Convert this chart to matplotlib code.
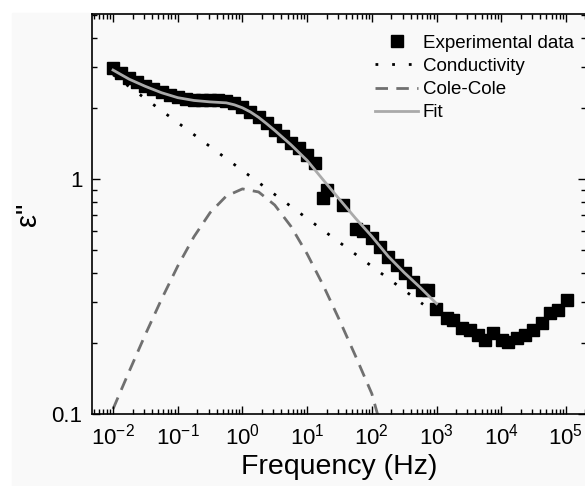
import matplotlib
matplotlib.use("Agg")
import matplotlib.pyplot as plt
from matplotlib.patches import Rectangle
from matplotlib.ticker import LogLocator, NullFormatter

plt.rcParams['font.family'] = ['Liberation Sans', 'DejaVu Sans']
plt.rcParams['axes.unicode_minus'] = False

# Experimental data (frequency in Hz, eps'')
freq_exp = [0.01, 0.0133, 0.0178, 0.0237, 0.0316, 0.0422, 0.0562, 0.075,
            0.1, 0.133, 0.178, 0.237, 0.316, 0.422, 0.562, 0.75,
            1.0, 1.33, 1.78, 2.37, 3.16, 4.22, 5.62, 7.5,
            10, 13.3, 17.6, 20.3, 36, 57, 73, 100, 134, 178, 245, 326, 434,
            597, 740, 982, 1450, 1800, 2480, 3300, 4380, 5630, 7470,
            10300, 12700, 17500, 23300, 31000, 42700, 56800, 75500, 104000]
eps_exp = [2.97, 2.83, 2.69, 2.59, 2.49, 2.41, 2.34, 2.28,
           2.23, 2.19, 2.17, 2.16, 2.16, 2.16, 2.15, 2.11,
           2.02, 1.93, 1.83, 1.73, 1.62, 1.52, 1.43, 1.35,
           1.27, 1.17, 0.83, 0.90, 0.775, 0.61, 0.60, 0.561, 0.514, 0.466,
           0.43, 0.398, 0.365, 0.337, 0.337, 0.280, 0.256, 0.251, 0.232,
           0.228, 0.217, 0.206, 0.221, 0.206, 0.202, 0.211, 0.217, 0.228,
           0.244, 0.269, 0.277, 0.306]

# Conductivity contribution (straight line in log-log)
freq_cond = [0.01, 620]
eps_cond = [2.78, 0.293]

# Cole-Cole relaxation
freq_cc = [0.01, 0.0178, 0.0316, 0.0562, 0.1, 0.178, 0.316, 0.562, 1.0,
           1.78, 3.16, 5.62, 10, 17.8, 31.6, 56.2, 100, 126]
eps_cc = [0.105, 0.152, 0.218, 0.308, 0.426, 0.568, 0.719, 0.846, 0.908,
          0.881, 0.775, 0.629, 0.480, 0.352, 0.251, 0.176, 0.122, 0.097]

# Total fit
freq_fit = [0.01, 0.0178, 0.0316, 0.0562, 0.1, 0.178, 0.316, 0.562, 0.75,
            1.0, 1.33, 1.78, 2.37, 3.16, 5.62, 10, 17.8, 31.6, 56.2, 100,
            178, 316, 562, 1000]
eps_fit = [2.91, 2.66, 2.48, 2.33, 2.22, 2.16, 2.13, 2.11, 2.07,
           2.01, 1.93, 1.83, 1.72, 1.61, 1.40, 1.20, 0.99, 0.82, 0.68, 0.57,
           0.47, 0.40, 0.345, 0.295]

xticks = [1e-2, 1e-1, 1e0, 1e1, 1e2, 1e3, 1e4, 1e5]

fig = plt.figure(figsize=(5.85, 4.86), dpi=100, facecolor='white')
fig.patches.append(Rectangle((12/585, 0), 1, 1 - 13/486, transform=fig.transFigure,
                             color='#f9f9f9', zorder=-10))
ax = fig.add_axes([92/585, 72/486, 494/585, 400/486])
ax.patch.set_visible(False)

ax.plot(freq_cond, eps_cond, color='black', lw=2, linestyle=(0, (1, 5)),
        label='Conductivity', zorder=1)
ax.plot(freq_cc, eps_cc, color='#707070', lw=2, linestyle=(0, (4.5, 3)),
        label='Cole-Cole', zorder=1)
ax.plot(freq_exp, eps_exp, 's', color='black', ms=8.7, mec='black',
        label='Experimental data', zorder=2)
ax.plot(freq_fit, eps_fit, color='#aaaaaa', lw=2, label='Fit', zorder=3)

ax.set_xscale('log')
ax.set_yscale('log')
ax.set_xlim(10**-2.325, 10**5.31)
ax.set_ylim(0.1, 5.04)

ax.set_xticks(xticks)
ax.xaxis.set_minor_locator(LogLocator(base=10, subs=range(2, 10), numticks=100))
ax.xaxis.set_minor_formatter(NullFormatter())
ax.set_yticks([0.1, 1], labels=['0.1', '1'])
ax.yaxis.set_minor_locator(LogLocator(base=10, subs=range(2, 10), numticks=100))
ax.yaxis.set_minor_formatter(NullFormatter())

ax.tick_params(which='both', direction='in', top=True, right=True,
               labelsize=16, width=1, pad=7)
ax.tick_params(which='major', length=6)
ax.tick_params(which='minor', length=3.5)
for s in ax.spines.values():
    s.set_linewidth(1.2)

ax.set_xlabel('Frequency (Hz)', fontsize=20.5, labelpad=3)
ax.set_ylabel('ε"', fontsize=21, labelpad=7)

h, l = ax.get_legend_handles_labels()
order = [2, 0, 1, 3]
ax.legend([h[i] for i in order], [l[i] for i in order], loc='upper left',
          bbox_to_anchor=(0.573, 0.948), frameon=False, fontsize=13.5,
          borderpad=0, borderaxespad=0, handlelength=2.3, handletextpad=0.25,
          labelspacing=0.32, numpoints=1)

fig.savefig('out.png', dpi=100)
